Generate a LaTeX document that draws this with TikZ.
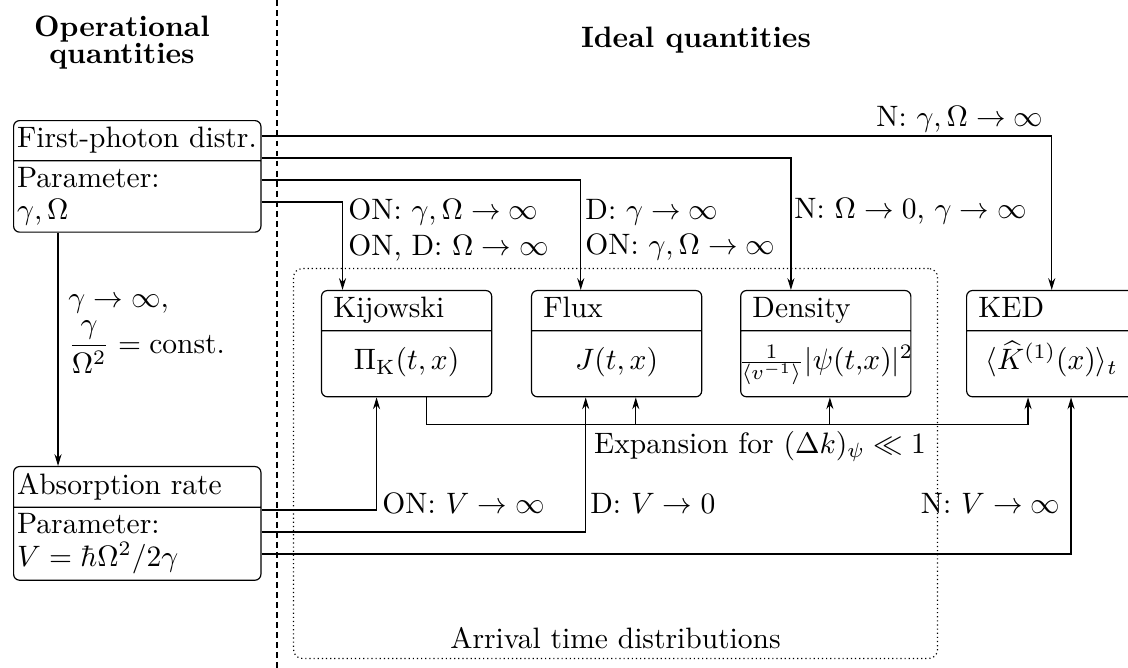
\documentclass[tikz,border=0pt]{standalone}
\usepackage{amsmath}
\usetikzlibrary{arrows.meta,positioning,shapes.multipart}

\newcommand{\partstrut}{\rule[-2.2pt]{0pt}{9.2pt}}
\newcommand{\quantity}[1]{\makebox[\linewidth]{\rule[-7pt]{0pt}{18pt}$#1$}}

\begin{document}
\begin{tikzpicture}[
  node distance=0.46cm,
  opbox/.style={draw, rectangle split, rectangle split parts=2, rounded corners=2pt,
    text width=2.86cm, align=left, inner xsep=1.2pt, inner ysep=2pt, anchor=north west},
  idbox/.style={draw, rectangle split, rectangle split parts=2, rounded corners=2pt,
    text width=1.745cm, align=left, inner xsep=4pt, inner ysep=2pt},
  heading/.style={font=\bfseries, align=center},
  frame/.style={draw, densely dotted, rounded corners=3pt, inner sep=0pt},
  lbl/.style={align=left, inner xsep=2pt},
  flow/.style={-{Stealth[length=4pt, width=2.4pt]}}
]
\useasboundingbox (0,0) rectangle (13.43,-7.952);

% separator and titles
\coordinate (septop) at (3.298,0);
\coordinate (sepbot) at (3.298,-7.952);
\draw[dash pattern=on 2pt off 1.4pt] (septop) -- (sepbot);
\node[heading] (optitle) at (1.452,-0.507) {Operational\\[-3pt]quantities};
\node[heading] (idtitle) at (8.286,-0.476) {Ideal quantities};

% group of arrival time distributions
\node[frame, anchor=north west, minimum width=7.667cm, minimum height=4.643cm] (atd) at (3.488,-3.190) {};
\node[above=0pt of atd.south] (latd) {Arrival time distributions};

% operational quantities
\node[opbox] (fpd) at (0.155,-1.429) {First-photon distr.\partstrut
  \nodepart{two} Parameter:\\[-1pt]$\gamma,\Omega$};
\node[opbox] (absr) at (0.155,-5.548) {Absorption rate\partstrut
  \nodepart{two} Parameter:\\[-1pt]$V=\hbar\Omega^2/2\gamma$};

% ideal quantities
\node[idbox, anchor=north west] (kij) at (3.821,-3.452) {Kijowski\partstrut
  \nodepart{two}\quantity{\Pi_{\mathrm{K}}(t,x)}};
\node[idbox, right=of kij] (flux) {Flux\partstrut
  \nodepart{two}\quantity{J(t,x)}};
\node[idbox, right=0.45cm of flux] (dens) {Density\partstrut
  \nodepart{two}\quantity{\frac{1}{\langle v^{-1}\rangle}|\psi(t{,}x)|^2}};
\node[idbox, right=0.65cm of dens] (ked) {KED\partstrut
  \nodepart{two}\quantity{\langle\widehat{K}^{(1)}(x)\rangle_t}};

% limits
\node[lbl, anchor=south east, inner sep=1pt] (lked) at (12.464,-1.619) {N: $\gamma,\Omega\to\infty$};
\node[lbl, anchor=west] (lkij) at (4.071,-2.738) {ON: $\gamma,\Omega\to\infty$\\ON, D: $\Omega\to\infty$};
\node[lbl, anchor=west] (lflux) at (6.893,-2.738) {D: $\gamma\to\infty$\\ON: $\gamma,\Omega\to\infty$};
\node[lbl, anchor=west] (ldens) at (9.381,-2.512) {N: $\Omega\to0$, $\gamma\to\infty$};
\node[lbl, anchor=west, inner xsep=3.3pt] (llim) at (0.69,-3.976) {$\gamma\to\infty,$\\[1.5pt]$\dfrac{\gamma}{\Omega^2}=\text{const.}$};
\node[lbl, anchor=north west, inner sep=3.3pt] (lexp) at (6.952,-5.012) {Expansion for $(\Delta k)_\psi\ll1$};
\node[lbl, anchor=west] (lvkij) at (4.476,-5.988) {ON: $V\to\infty$};
\node[lbl, anchor=west] (lvflux) at (6.952,-5.988) {D: $V\to0$};
\node[lbl, anchor=east] (lvked) at (12.702,-5.988) {N: $V\to\infty$};

% from first-photon distribution
\draw[flow] ([yshift=-0.19cm]fpd.north east) -| (ked.north);
\draw[flow] ([yshift=-0.452cm]fpd.north east) -| ([xshift=-0.415cm]dens.north);
\draw[flow] ([yshift=-0.714cm]fpd.north east) -| ([xshift=-0.427cm]flux.north);
\draw[flow] ([yshift=-0.976cm]fpd.north east) -| ([xshift=-0.763cm]kij.north);
\draw[flow] ([xshift=0.536cm]fpd.south west) -- ([xshift=0.536cm]absr.north west);

% from absorption rate
\draw[flow] ([yshift=-0.524cm]absr.north east) -| ([xshift=-0.358cm]kij.south);
\draw[flow] ([yshift=-0.786cm]absr.north east) -| ([xshift=-0.368cm]flux.south);
\draw[flow] ([yshift=-1.048cm]absr.north east) -| ([xshift=0.23cm]ked.south);

% expansion
\coordinate (expbend) at ([xshift=0.237cm, yshift=-0.32cm]kij.south);
\coordinate (fluxin) at ([xshift=0.228cm]flux.south);
\coordinate (densin) at ([xshift=0.049cm]dens.south);
\draw[flow] ([xshift=0.237cm]kij.south) -- (expbend) -| ([xshift=-0.282cm]ked.south);
\draw[flow] (fluxin |- expbend) -- (fluxin);
\draw[flow] (densin |- expbend) -- (densin);
\end{tikzpicture}
\end{document}
